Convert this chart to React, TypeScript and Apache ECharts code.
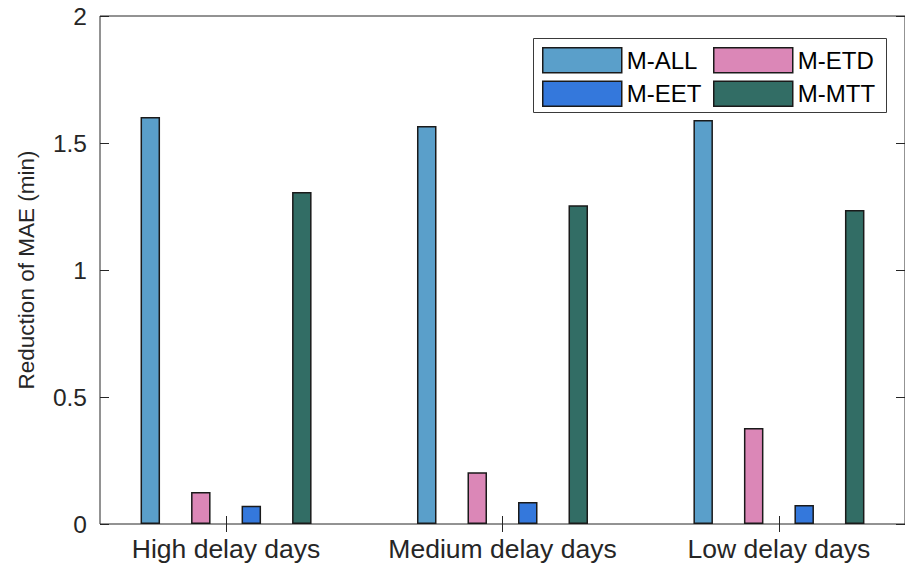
import React, { useEffect, useRef } from "react";
import * as echarts from "echarts";

const categories = ["High delay days", "Medium delay days", "Low delay days"];
const seriesNames = ["M-ALL", "M-ETD", "M-EET", "M-MTT"];
const mAll = [1.602, 1.567, 1.591];
const mEtd = [0.126, 0.204, 0.378];
const mEet = [0.072, 0.087, 0.075];
const mMtt = [1.307, 1.255, 1.236];
const seriesValues = [mAll, mEtd, mEet, mMtt];
const seriesColors = ["#5a9fca", "#db87b7", "#3478dc", "#326d65"];
const yTicks = [0, 0.5, 1, 1.5, 2];
const yTitle = "Reduction of MAE (min)";

const FONT = "'Liberation Sans', Arial, Helvetica, sans-serif";
const TXT = "#262626";

export default function App() {
  const ref = useRef<HTMLDivElement>(null);
  useEffect(() => {
    if (!ref.current) return;
    const chart = echarts.init(ref.current, null, { renderer: "svg" });
    const catPos = categories.map((_, i) => i + 1);
    const legendPos = [
      { left: 542, top: 47 },
      { left: 713, top: 47 },
      { left: 542, top: 80.5 },
      { left: 713, top: 80.5 },
    ];
    const option: any = {
      animation: false,
      backgroundColor: "#ffffff",
      textStyle: { fontFamily: FONT, color: TXT },
      grid: {
        left: 100,
        top: 16,
        right: -2.5,
        bottom: 45,
        show: true,
        borderColor: TXT,
        borderWidth: 1,
        backgroundColor: "transparent",
        containLabel: false,
      },
      xAxis: [
        {
          type: "value",
          position: "bottom",
          min: 0.544,
          max: 3.456,
          splitLine: { show: false },
          axisLine: { show: false },
          axisTick: {
            show: true,
            inside: true,
            length: 8,
            customValues: catPos,
            lineStyle: { color: TXT, width: 1 },
          },
          axisLabel: {
            show: true,
            customValues: catPos,
            formatter: (v: number) => categories[Math.round(v) - 1] ?? "",
            fontSize: 26.5,
            color: TXT,
            fontFamily: FONT,
            margin: 11,
          },
        },
        {
          type: "value",
          position: "top",
          min: 0.544,
          max: 3.456,
          splitLine: { show: false },
          axisLine: { show: false },
          axisTick: {
            show: true,
            inside: true,
            length: 8,
            customValues: catPos,
            lineStyle: { color: TXT, width: 1 },
          },
          axisLabel: { show: false, customValues: catPos },
        },
      ],
      yAxis: [
        {
          type: "value",
          position: "left",
          min: yTicks[0],
          max: yTicks[yTicks.length - 1],
          interval: 0.5,
          splitLine: { show: false },
          axisLine: { show: false },
          axisTick: { show: true, inside: true, length: 9, lineStyle: { color: TXT } },
          axisLabel: {
            fontSize: 24.5,
            color: TXT,
            fontFamily: FONT,
            margin: 13,
          },
          name: yTitle,
          nameLocation: "middle",
          nameGap: 62,
          nameRotate: 90,
          nameTextStyle: { fontSize: 22.5, color: TXT, fontFamily: FONT },
        },
        {
          type: "value",
          position: "right",
          min: yTicks[0],
          max: yTicks[yTicks.length - 1],
          interval: 0.5,
          splitLine: { show: false },
          axisLine: { show: false },
          axisTick: { show: true, inside: true, length: 9, lineStyle: { color: TXT } },
          axisLabel: { show: false },
        },
      ],
      legend: seriesNames.map((n, i) => ({
        data: [n],
        left: legendPos[i].left,
        top: legendPos[i].top,
        padding: 0,
        itemWidth: 79,
        itemHeight: 25,
        icon: "rect",
        selectedMode: false,
        textStyle: { fontSize: 24, color: "#000000", fontFamily: FONT },
        itemStyle: { borderColor: "#1a1a1a", borderWidth: 1.5 },
      })),
      graphic: [
        {
          type: "rect",
          shape: { x: 533.5, y: 38.5, width: 353, height: 74 },
          style: { fill: "#ffffff", stroke: "#3a3a3a", lineWidth: 1 },
          z: 1,
        },
      ],
      series: seriesNames.map((n, si) => ({
        name: n,
        type: "bar",
        xAxisIndex: 0,
        yAxisIndex: 0,
        barWidth: 19.5,
        barGap: "159%",
        itemStyle: {
          color: seriesColors[si],
          borderColor: "#1a1a1a",
          borderWidth: 1.5,
        },
        data: categories.map((_, ci) => [ci + 1, seriesValues[si][ci]]),
      })),
    };
    chart.setOption(option);
    return () => chart.dispose();
  }, []);
  return (
    <div
      ref={ref}
      style={{ position: "fixed", left: 0, top: 0, width: 905, height: 569 }}
    />
  );
}
